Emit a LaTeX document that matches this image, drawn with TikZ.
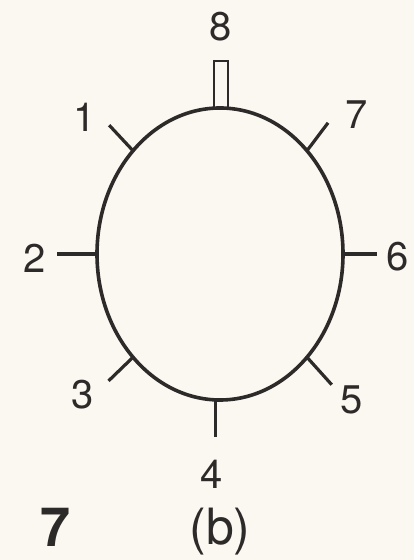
\documentclass[tikz,border=0pt]{standalone}
\usepackage{fontspec}
\setmainfont{TeX Gyre Heros}
\usepackage{xcolor}
\usepackage{tikz}

\definecolor{paper}{RGB}{251,248,241}
\definecolor{ink}{RGB}{45,42,42}

\tikzset{
  ring/.style={draw=ink, line width=1.8pt},
  tick/.style={draw=ink, line width=1.6pt},
  post/.style={draw=ink, line width=1.1pt},
  num/.style={text=ink, font=\fontsize{20}{24}\selectfont, inner sep=0pt},
}

\begin{document}
\begin{tikzpicture}[x=0.5pt, y=0.5pt]
  % Page
  \fill[paper] (0,0) rectangle (414,560);
  \useasboundingbox (0,0) rectangle (414,560);

  % Ring
  \coordinate (c) at (220,306);
  \draw[ring] (c) ellipse [x radius=123, y radius=146];

  % Ticks: angle on ring / direction / length / number / label
  \foreach \t/\d/\len/\n/\lx/\ly in {135/133/35/1/85/443, 180/180/40/2/35/302,
      -135/-136/34/3/83/165, -92/-90/37/4/212/86, -45/-48/37/5/352/160,
      0/0/34/6/398/303, 45/53/35/7/357/445}
  {
    \path (c) ++(\t:123 and 146) coordinate (p\n);
    \draw[tick] (p\n) -- ++(\d:\len) coordinate (q\n);
    \node[num] (l\n) at (\lx,\ly) {\n};
  }

  % Top post
  \path (c) ++(90:123 and 146) coordinate (p8);
  \draw[post] (p8) ++(-6,0) rectangle ++(14,47);
  \node[num] (l8) at (221,533) {8};

  % Caption
  \node[text=ink, font=\fontsize{27}{30}\selectfont\bfseries, inner sep=0pt] (tag) at (56,33) {7};
  \node[text=ink, font=\fontsize{25}{28}\selectfont, inner sep=0pt] (part) at (220,28) {(b)};
\end{tikzpicture}
\end{document}
